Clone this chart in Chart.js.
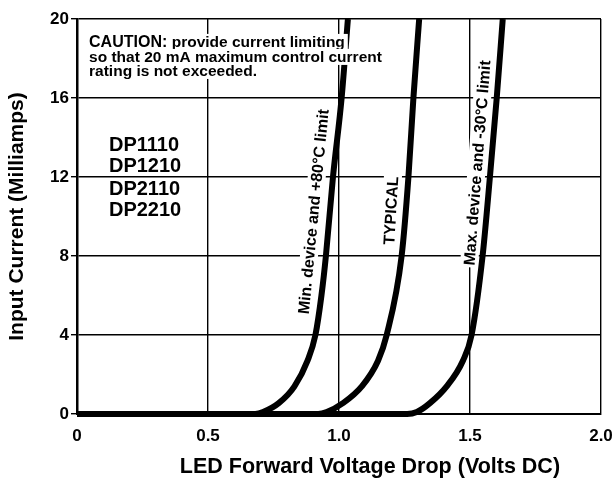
<!DOCTYPE html>
<html>
<head>
<meta charset="utf-8">
<script src="https://cdn.jsdelivr.net/npm/chart.js@4.4.0/dist/chart.umd.min.js"></script>
<style>
  html, body { margin: 0; padding: 0; background: #fff; }
</style>
</head>
<body>
<canvas id="myChart" width="614" height="478"></canvas>
<script>
//CURVE DATA (VOLTS DC / MILLIAMPS)
const minVolts = [0, 0.68, 0.71, 0.77, 0.83, 0.88, 0.91, 0.933, 0.95, 0.977, 1.01, 1.034];
const minMilliamps = [0, 0, 0.1, 0.55, 1.4, 2.7, 4, 6, 8, 12, 16, 20];
const typVolts = [0, 0.92, 0.953, 1.015, 1.087, 1.149, 1.182, 1.239, 1.265, 1.284, 1.306];
const typMilliamps = [0, 0, 0.1, 0.55, 1.4, 2.7, 4, 8, 12, 16, 20];
const maxVolts = [0, 1.26, 1.297, 1.347, 1.411, 1.473, 1.506, 1.548, 1.576, 1.602, 1.625];
const maxMilliamps = [0, 0, 0.1, 0.55, 1.4, 2.7, 4, 8, 12, 16, 20];

//TICK LABELS
const xTickLabels = ["0", "0.5", "1.0", "1.5", "2.0"];
const yTickLabels = ["0", "4", "8", "12", "16", "20"];

//TEXTS
const curveNames = ["Min. device and +80°C limit", "TYPICAL", "Max. device and -30°C limit"];
const cautionLines = ["provide current limiting", "so that 20 mA maximum control current", "rating is not exceeded."];
const partNumbers = ["DP1110", "DP1210", "DP2110", "DP2210"];

const FONT = "'Liberation Sans', Arial, Helvetica, sans-serif";

function toPoints(xs, ys) {
  let pts = [];
  for (let i = 0; i < xs.length; i++) {
    pts.push({ x: xs[i], y: ys[i] });
  }
  return pts;
}

function curveSet(label, xs, ys) {
  return {
    label: label,
    data: toPoints(xs, ys),
    showLine: true,
    borderColor: "#000",
    borderWidth: 6,
    pointRadius: 0,
    cubicInterpolationMode: "monotone",
    clip: false,
  };
}

function boxedText(ctx, text, x, y, angle, pad) {
  //DRAW TEXT ON A WHITE PATCH SO THE GRID IS HIDDEN BEHIND IT
  ctx.save();
  ctx.translate(x, y);
  ctx.rotate(angle);
  const w = ctx.measureText(text).width;
  const h = 16;
  ctx.fillStyle = "#fff";
  ctx.fillRect(-w / 2 - pad, -h / 2 - 1, w + pad * 2, h + 2);
  ctx.fillStyle = "#000";
  ctx.textAlign = "center";
  ctx.textBaseline = "middle";
  ctx.fillText(text, 0, 1);
  ctx.restore();
}

const noteLayer = {
  id: "noteLayer",
  beforeDatasetsDraw(chart) {
    //CURVE LABELS, ROTATED ALONG THE CURVES (UNDER THE CURVES)
    const ctx = chart.ctx;
    const xs = chart.scales.x,
      ys = chart.scales.y;
    ctx.save();
    ctx.font = "bold 16px " + FONT;
    boxedText(ctx, curveNames[0], xs.getPixelForValue(0.902), ys.getPixelForValue(10.25), -84.4 * Math.PI / 180, 2);
    boxedText(ctx, curveNames[1], xs.getPixelForValue(1.198), ys.getPixelForValue(10.3), -86.5 * Math.PI / 180, 2);
    boxedText(ctx, curveNames[2], xs.getPixelForValue(1.527), ys.getPixelForValue(12.72), -85.5 * Math.PI / 180, 2);
    ctx.restore();
  },
  afterDatasetsDraw(chart) {
    const ctx = chart.ctx;
    const xs = chart.scales.x,
      ys = chart.scales.y;

    //CAUTION NOTE
    ctx.save();
    ctx.textBaseline = "middle";
    ctx.textAlign = "left";
    let left = xs.getPixelForValue(0.046);
    let lineY = [18.84, 18.08, 17.37];
    for (let i = 0; i < cautionLines.length; i++) {
      let y = ys.getPixelForValue(lineY[i]);
      let x = left;
      let lead = "";
      if (i === 0) {
        ctx.font = "bold 16px " + FONT;
        lead = "CAUTION: ";
      }
      let leadW = ctx.measureText(lead).width;
      ctx.font = "bold 15.5px " + FONT;
      let w = leadW + ctx.measureText(cautionLines[i]).width;
      ctx.fillStyle = "#fff";
      ctx.fillRect(x - 3, y - 8, w + 6, 16);
      ctx.fillStyle = "#000";
      if (lead) {
        ctx.font = "bold 16px " + FONT;
        ctx.fillText(lead, x, y + 1);
        ctx.font = "bold 15.5px " + FONT;
      }
      ctx.fillText(cautionLines[i], x + leadW, y + 1);
    }
    ctx.restore();

    //PART NUMBERS
    ctx.save();
    ctx.font = "bold 20px " + FONT;
    ctx.textBaseline = "middle";
    ctx.textAlign = "left";
    let partY = [13.67, 12.56, 11.44, 10.33];
    for (let i = 0; i < partNumbers.length; i++) {
      let x = xs.getPixelForValue(0.122);
      let y = ys.getPixelForValue(partY[i]);
      let w = ctx.measureText(partNumbers[i]).width;
      ctx.fillStyle = "#fff";
      ctx.fillRect(x - 4, y - 10, w + 8, 20);
      ctx.fillStyle = "#000";
      ctx.fillText(partNumbers[i], x, y + 1);
    }
    ctx.restore();

    //X AXIS TITLE
    ctx.save();
    ctx.font = "bold 21.5px " + FONT;
    ctx.fillStyle = "#000";
    ctx.textAlign = "center";
    ctx.textBaseline = "middle";
    ctx.fillText("LED Forward Voltage Drop (Volts DC)", xs.getPixelForValue(1.118), 467);
    ctx.restore();
  },
};

const data = {
  datasets: [
    curveSet(curveNames[0], minVolts, minMilliamps),
    curveSet(curveNames[1], typVolts, typMilliamps),
    curveSet(curveNames[2], maxVolts, maxMilliamps),
  ],
};

const config = {
  type: "scatter",
  data: data,
  options: {
    responsive: false,
    animation: false,
    layout: { padding: { top: 19, right: 13, left: 0, bottom: 0 } },
    plugins: {
      legend: { display: false },
      tooltip: { enabled: false },
    },
    scales: {
      x: {
        type: "linear",
        min: 0,
        max: 2,
        afterFit: (scale) => {
          scale.height = 64;
          scale.paddingLeft = 0;
          scale.paddingRight = 0;
        },
        afterBuildTicks: (scale) => {
          scale.ticks = xTickLabels.map((t) => ({ value: parseFloat(t) }));
        },
        ticks: {
          color: "#000",
          padding: 12,
          maxRotation: 0,
          font: { family: FONT, size: 17, weight: "bold" },
          callback: (v, i) => xTickLabels[i],
        },
        grid: { color: "#000", lineWidth: 1.4, drawTicks: false },
        border: { color: "#000", width: 2 },
      },
      y: {
        type: "linear",
        min: 0,
        max: 20,
        afterFit: (scale) => {
          scale.width = 77;
          scale.paddingTop = 0;
          scale.paddingBottom = 0;
        },
        afterBuildTicks: (scale) => {
          scale.ticks = yTickLabels.map((t) => ({ value: parseFloat(t) }));
        },
        ticks: {
          color: "#000",
          padding: 2,
          font: { family: FONT, size: 17, weight: "bold" },
          callback: (v, i) => yTickLabels[i],
        },
        grid: { color: "#000", lineWidth: 1.4, drawTicks: true, tickLength: 6 },
        border: { color: "#000", width: 2.5 },
        title: {
          display: true,
          text: "Input Current (Milliamps)",
          color: "#000",
          font: { family: FONT, size: 21, weight: "bold" },
          padding: { top: 5, bottom: 0 },
        },
      },
    },
  },
  plugins: [noteLayer],
};

const myChart = document.getElementById("myChart");
const chart = new Chart(myChart, config);
</script>
</body>
</html>
